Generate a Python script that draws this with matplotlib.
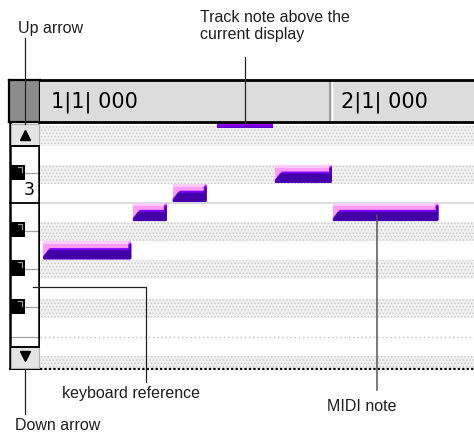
import numpy as np
import matplotlib.pyplot as plt
from matplotlib.patches import Rectangle, Polygon

plt.rcParams['hatch.linewidth'] = 0.6

W, H = 474, 433

# notes MIDI : debut (temps), duree (temps), hauteur (C3 = 60)
note_start = [0.04, 1.28, 1.83, 2.44, 3.24, 4.04]
note_len = [1.22, 0.47, 0.47, 0.77, 0.79, 1.46]
note_pitch = [57, 59, 60, 66, 61, 59]

# regle de temps
bar_beats = [0, 4]
bar_labels = ['1|1| 000', '2|1| 000']

# zone visible
beat_range = (0, 5.99)
pitch_range = (51.27, 64.23)
octave_pitch = 60
octave_label = '3'

SHARPS = {1, 3, 6, 8, 10}

fig = plt.figure(figsize=(W / 100, H / 100), dpi=100)
fig.patch.set_facecolor('white')


def ax_at(x0, y0, x1, y1, **kw):
    # axes placee en pixels (origine en haut a gauche)
    a = fig.add_axes([x0 / W, 1 - y1 / H, (x1 - x0) / W, (y1 - y0) / H], **kw)
    return a


# ---- grille des notes
g = ax_at(40, 122, 474, 370)
g.set_xlim(*beat_range)
g.set_ylim(*pitch_range)
g.axis('off')
dx = (beat_range[1] - beat_range[0]) / 434
dy = (pitch_range[1] - pitch_range[0]) / 248

for p in range(int(np.floor(pitch_range[0])), int(np.ceil(pitch_range[1]))):
    if p % 12 in SHARPS:
        g.axhspan(p, p + 1, facecolor='#f0f0f0', hatch='.....', edgecolor='#c8c8c8', lw=0)
    if p % 12 == 0:
        g.axhline(p, color='#d4d4d4', lw=1.2)
    if p % 12 == 5:
        g.axhline(p, color='#c0c0c0', lw=1.0, ls=(0, (1, 2)))
g.axhline(pitch_range[0] + dy * 0.6, color='black', lw=1.6, ls=(0, (1, 1)))

for s, d, p in zip(note_start, note_len, note_pitch):
    x0, x1 = s, s + d
    if p + 1 > pitch_range[1]:
        # note hors de l'affichage : indicateur en haut
        top = pitch_range[1]
        g.add_patch(Rectangle((x0, top - 6 * dy), d, 6 * dy, fc='#8a00ff', lw=0, zorder=3))
        g.add_patch(Rectangle((x0, top - 6 * dy), d, 1.5 * dy, fc='#6a00d0', lw=0, zorder=3))
        continue
    yb, yt = p + dy, p + 1
    ym = yb + 0.62 * (yt - yb)
    g.add_patch(Rectangle((x0, yb), d, yt - yb, fc='#ff9cf6', lw=0, zorder=3))
    g.add_patch(Rectangle((x0, yt - 3 * dy), d - 3 * dx, 3 * dy, fc='#ffcaff', lw=0, zorder=3))
    dark = [(x0 + dx, yb), (x0, yb + dy), (x0, yb + 3 * dy), (x0 + 7 * dx, ym),
            (x1 - 3 * dx, ym), (x1 - 3 * dx, yt - 3 * dy), (x1 - dx, yt - 1.5 * dy),
            (x1, yt - 1.5 * dy), (x1, yb + dy), (x1 - dx, yb)]
    g.add_patch(Polygon(dark, closed=True, fc='#8000ff', lw=0, zorder=4))
    inner = [(x0 + dx, yb), (x0, yb + dy), (x0 + 5 * dx, ym - 2 * dy),
             (x1 - 2 * dx, ym - 2 * dy), (x1 - 2 * dx, yt - 4 * dy),
             (x1, yt - 3 * dy), (x1, yb + dy), (x1 - dx, yb)]
    g.add_patch(Polygon(inner, closed=True, fc='#4200a8', lw=0, zorder=5))

# ---- clavier
k = ax_at(9, 122, 40, 370, sharey=g)
k.set_xlim(0, 31)
k.axis('off')
for p in range(int(np.floor(pitch_range[0])), int(np.ceil(pitch_range[1]))):
    if p % 12 in SHARPS:
        kt = p + 1
        kh = 0.8
        k.add_patch(Rectangle((1.5, kt - kh), 14, kh, fc='black', lw=0, zorder=2))
        k.plot([9, 13, 13], [kt - 2 * dy, kt - 2 * dy, kt - 7 * dy], color='#9a9a9a', lw=0.9, zorder=3)
        k.plot([15.5, 30], [kt - kh / 2 - dy, kt - kh / 2 - dy], color='#a0a0a0', lw=0.9)
    if p % 12 == 0:
        k.plot([1, 30], [p, p], color='black', lw=1.3)
    if p % 12 == 5:
        k.plot([1, 30], [p, p], color='#a0a0a0', lw=0.9)
k.text(20, octave_pitch + 4 * dy, octave_label, ha='center', va='bottom',
       fontsize=12.5, family='DejaVu Sans', color='black')
k.axvline(1.0, color='black', lw=1.8)
k.axvline(30.0, color='black', lw=1.8)
k.axhline(pitch_range[0] + dy, color='black', lw=1.5)

for (yy0, yy1, mk) in [(124, 146, '^'), (347, 368, 'v')]:
    b = ax_at(10.5, yy0, 38.5, yy1)
    b.set_facecolor('#e4e4e4')
    b.set_xticks([])
    b.set_yticks([])
    for sp in b.spines.values():
        sp.set_color('#b0b0b0')
        sp.set_linewidth(0.8)
    b.spines['bottom' if mk == '^' else 'top'].set_color('black')
    b.spines['bottom' if mk == '^' else 'top'].set_linewidth(1.4)
    b.plot([0.5], [0.5 if mk == '^' else 0.55], marker=mk, color='black', ms=6.5)
    b.set_xlim(0, 1)
    b.set_ylim(0, 1)

# ---- regle de temps
corner = ax_at(9, 80, 40, 122)
corner.set_facecolor('#8c8c8c')
corner.set_xticks([])
corner.set_yticks([])
for sp in corner.spines.values():
    sp.set_color('black')
    sp.set_linewidth(1.6)

hd = ax_at(40, 80, 474, 122, sharex=g)
hd.set_facecolor('#dcdcdc')
hd.set_ylim(0, 1)
hd.set_xticks([])
hd.set_yticks([])
hd.tick_params(length=0)
for side in ['left', 'right']:
    hd.spines[side].set_visible(False)
hd.spines['top'].set_linewidth(2)
hd.spines['bottom'].set_linewidth(2)
for b_, lbl in zip(bar_beats, bar_labels):
    if b_ > beat_range[0]:
        hd.axvline(b_, color='#909090', lw=1.2)
        hd.axvline(b_ + 2 * dx, color='white', lw=1.0)
    hd.text(b_ + 11 * dx, 0.47, lbl, ha='left', va='center', fontsize=15,
            family='DejaVu Sans', color='black')

# ---- legendes
ov = fig.add_axes([0, 0, 1, 1], zorder=10)
ov.set_xlim(0, W)
ov.set_ylim(H, 0)
ov.axis('off')
ov.patch.set_alpha(0)
lc = '#222222'
ov.plot([25, 25], [38, 124], color=lc, lw=0.9)
ov.plot([245.5, 245.5], [57, 125], color=lc, lw=0.9)
ov.plot([33, 146, 146], [287, 287, 382], color=lc, lw=0.9)
ov.plot([25, 25], [369, 414], color=lc, lw=0.9)
ov.plot([377, 377], [215, 390], color='#555555', lw=1.1)

tk = dict(fontsize=11.5, family='Liberation Sans', color='#1e1e1e', va='baseline', ha='left')
ov.text(18, 33, 'Up arrow', **tk)
ov.text(200, 22, 'Track note above the', **tk)
ov.text(200, 39, 'current display', **tk)
ov.text(62, 398, 'keyboard reference', **tk)
ov.text(15, 430, 'Down arrow', **tk)
ov.text(327, 411, 'MIDI note', **tk)

fig.savefig('out.png', dpi=100)
